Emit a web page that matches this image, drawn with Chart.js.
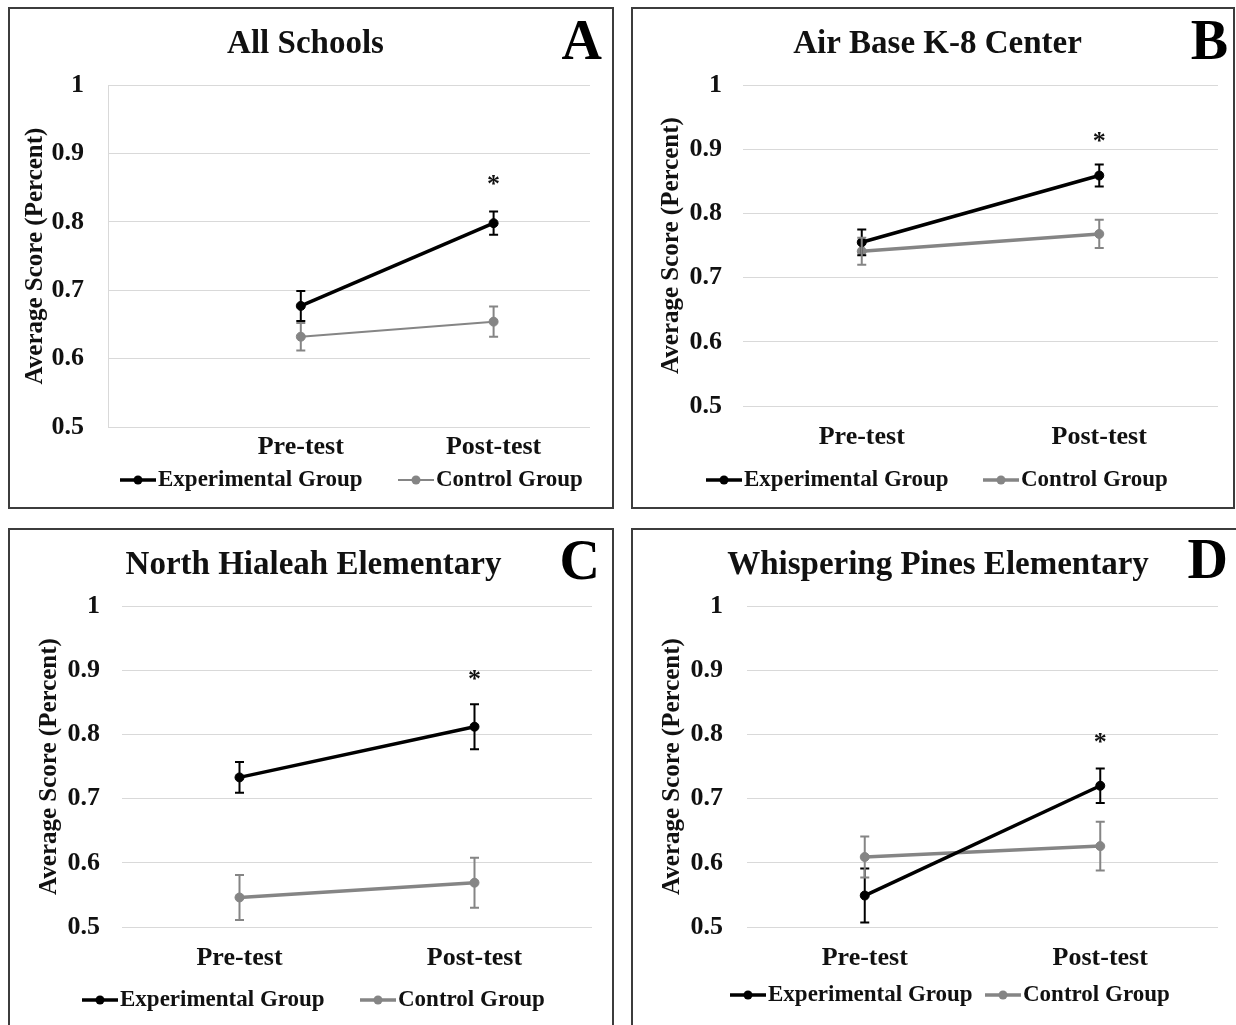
<!DOCTYPE html>
<html>
<head>
<meta charset="utf-8">
<script src="https://cdn.jsdelivr.net/npm/chart.js@4.4.1/dist/chart.umd.min.js"></script>
<style>
  body { margin: 0; background: #fff; width: 1236px; height: 1025px; overflow: hidden; position: relative; }
  .panel { position: absolute; box-sizing: border-box; border: 2px solid #3c3c3c; background: #fff; }
  .panel canvas { display: block; }
</style>
</head>
<body>
<div class="panel" style="left:8px; top:7px; width:606px; height:502px;"><canvas id="chartA" width="602" height="498"></canvas></div>
<div class="panel" style="left:631px; top:7px; width:604px; height:502px;"><canvas id="chartB" width="600" height="498"></canvas></div>
<div class="panel" style="left:8px; top:528px; width:606px; height:510px;"><canvas id="chartC" width="602" height="495"></canvas></div>
<div class="panel" style="left:631px; top:528px; width:620px; height:510px;"><canvas id="chartD" width="603" height="495"></canvas></div>
<script>
const phases = ['Pre-test', 'Post-test'];
const groupNames = ['Experimental Group', 'Control Group'];
const yTicks = [0.5, 0.6, 0.7, 0.8, 0.9, 1];

// All Schools
const expA = [0.677, 0.798];
const expErrA = [0.022, 0.017];
const ctrlA = [0.632, 0.654];
const ctrlErrA = [0.020, 0.022];
const starA = [null, 0.861];

// Air Base K-8 Center
const expB = [0.755, 0.859];
const expErrB = [0.020, 0.017];
const ctrlB = [0.741, 0.768];
const ctrlErrB = [0.021, 0.022];
const starB = [null, 0.919];

// North Hialeah Elementary
const expC = [0.733, 0.812];
const expErrC = [0.024, 0.035];
const ctrlC = [0.546, 0.569];
const ctrlErrC = [0.035, 0.039];
const starC = [null, 0.893];

// Whispering Pines Elementary
const expD = [0.549, 0.720];
const expErrD = [0.042, 0.027];
const ctrlD = [0.609, 0.626];
const ctrlErrD = [0.032, 0.038];
const starD = [null, 0.795];

const SERIF = '"Liberation Serif", "Times New Roman", serif';
Chart.defaults.font.family = SERIF;
Chart.defaults.color = '#111';

const errorBars = {
    id: 'errorBars',
    afterDatasetsDraw(chart) {
        const ctx = chart.ctx;
        const yScale = chart.scales.y;
        chart.data.datasets.forEach((ds, i) => {
            const meta = chart.getDatasetMeta(i);
            ctx.save();
            ctx.strokeStyle = ds.borderColor;
            ctx.lineWidth = 2;
            meta.data.forEach((pt, j) => {
                const v = meta.controller.getParsed(j).y;
                const top = yScale.getPixelForValue(v + ds.errors[j]);
                const bot = yScale.getPixelForValue(v - ds.errors[j]);
                ctx.beginPath();
                ctx.moveTo(pt.x, top); ctx.lineTo(pt.x, bot);
                ctx.moveTo(pt.x - 4.5, top); ctx.lineTo(pt.x + 4.5, top);
                ctx.moveTo(pt.x - 4.5, bot); ctx.lineTo(pt.x + 4.5, bot);
                ctx.stroke();
            });
            ctx.restore();
        });
    }
};

const starMarks = {
    id: 'starMarks',
    afterDatasetsDraw(chart, args, opts) {
        const ctx = chart.ctx;
        const meta = chart.getDatasetMeta(0);
        ctx.save();
        ctx.font = 'bold 26px ' + SERIF;
        ctx.fillStyle = '#111';
        ctx.textAlign = 'center';
        ctx.textBaseline = 'alphabetic';
        opts.values.forEach((v, j) => {
            if (v === null) return;
            const y = chart.scales.y.getPixelForValue(v);
            ctx.fillText('*', meta.data[j].x, y + 12);
        });
        ctx.restore();
    }
};

const panelLetter = {
    id: 'panelLetter',
    afterDraw(chart, args, opts) {
        const ctx = chart.ctx;
        ctx.save();
        ctx.font = 'bold 56px ' + SERIF;
        ctx.fillStyle = '#000';
        ctx.textAlign = 'right';
        ctx.textBaseline = 'alphabetic';
        ctx.fillText(opts.text, opts.x, opts.y);
        ctx.restore();
    }
};

const legendLines = {
    id: 'legendLines',
    afterDraw(chart, args, opts) {
        const ctx = chart.ctx;
        ctx.save();
        ctx.font = 'bold 23px ' + SERIF;
        ctx.textBaseline = 'middle';
        chart.data.datasets.forEach((ds, i) => {
            const x = opts.x[i], y = opts.y;
            ctx.strokeStyle = ds.borderColor;
            ctx.lineWidth = ds.borderWidth;
            ctx.beginPath(); ctx.moveTo(x, y); ctx.lineTo(x + 36, y); ctx.stroke();
            ctx.fillStyle = ds.borderColor;
            ctx.beginPath(); ctx.arc(x + 18, y, 4.5, 0, Math.PI * 2); ctx.fill();
            ctx.fillStyle = '#111';
            ctx.fillText(ds.label, x + 38, y);
        });
        ctx.restore();
    }
};

function makePanel(id, p) {
    const toData = arr => p.linearX ? arr.map((v, i) => ({ x: i + 1, y: v })) : arr;
    const xScale = p.linearX ? {
        type: 'linear', min: 0, max: 2.5,
        afterBuildTicks: s => { s.ticks = phases.map((t, i) => ({ value: i + 1 })); },
        ticks: { callback: v => phases[v - 1], padding: p.xPad, font: { size: 26, weight: 'bold' }, color: '#111' }
    } : {
        type: 'category', offset: true,
        ticks: { padding: p.xPad, font: { size: 26, weight: 'bold' }, color: '#111' }
    };
    Object.assign(xScale, {
        grid: { display: false, drawTicks: false },
        border: { display: false },
        afterFit: s => { s.height = 50; }
    });
    return new Chart(document.getElementById(id), {
        type: 'line',
        data: {
            labels: phases,
            datasets: [
                {
                    label: groupNames[0], data: toData(p.exp), errors: p.expErr,
                    borderColor: '#000', backgroundColor: '#000', borderWidth: 3.5,
                    pointRadius: 4.5, pointBackgroundColor: '#000', pointBorderColor: '#000', pointBorderWidth: 1
                },
                {
                    label: groupNames[1], data: toData(p.ctrl), errors: p.ctrlErr,
                    borderColor: '#858585', backgroundColor: '#858585', borderWidth: p.ctrlWidth,
                    pointRadius: 4.5, pointBackgroundColor: '#858585', pointBorderColor: '#858585', pointBorderWidth: 1
                }
            ]
        },
        options: {
            responsive: false,
            animation: false,
            devicePixelRatio: 1,
            layout: { padding: p.pad },
            scales: {
                x: xScale,
                y: {
                    min: 0.5, max: 1,
                    afterBuildTicks: s => { s.ticks = yTicks.map(v => ({ value: v })); },
                    afterFit: s => { s.width = p.yW; },
                    ticks: { callback: v => String(v), padding: p.yPad, font: { size: 26, weight: 'bold' }, color: '#111' },
                    grid: { color: '#d9d9d9', lineWidth: 1, drawTicks: false },
                    border: { display: p.yBorder, color: '#d9d9d9' },
                    title: {
                        display: true, text: 'Average Score (Percent)',
                        font: { size: 25, weight: 'bold' }, color: '#111', padding: 0
                    }
                }
            },
            plugins: {
                legend: { display: false },
                tooltip: { enabled: false },
                title: {
                    display: true, text: p.title,
                    font: { size: 33, weight: 'bold' }, color: '#111',
                    padding: { top: 16, bottom: 20.4 }
                },
                starMarks: { values: p.star },
                panelLetter: p.letter,
                legendLines: p.legend
            }
        },
        plugins: [errorBars, starMarks, panelLetter, legendLines]
    });
}

makePanel('chartA', {
    title: 'All Schools', linearX: true,
    exp: expA, expErr: expErrA, ctrl: ctrlA, ctrlErr: ctrlErrA, star: starA, ctrlWidth: 2,
    pad: { left: 11, right: 22, top: 0, bottom: 30 }, yW: 87, yPad: 24, xPad: 5, yBorder: true,
    letter: { text: 'A', x: 592, y: 50 },
    legend: { x: [110, 388], y: 471 }
});
makePanel('chartB', {
    title: 'Air Base K-8 Center',
    exp: expB, expErr: expErrB, ctrl: ctrlB, ctrlErr: ctrlErrB, star: starB, ctrlWidth: 3.5,
    pad: { left: 24, right: 15, top: 0, bottom: 51 }, yW: 86, yPad: 21, xPad: 16, yBorder: false,
    letter: { text: 'B', x: 595, y: 50 },
    legend: { x: [73, 350], y: 471 }
});
makePanel('chartC', {
    title: 'North Hialeah Elementary',
    exp: expC, expErr: expErrC, ctrl: ctrlC, ctrlErr: ctrlErrC, star: starC, ctrlWidth: 3.5,
    pad: { left: 25, right: 20, top: 0, bottom: 48 }, yW: 87, yPad: 22, xPad: 16, yBorder: false,
    letter: { text: 'C', x: 590, y: 49 },
    legend: { x: [72, 350], y: 470 }
});
makePanel('chartD', {
    title: 'Whispering Pines Elementary',
    exp: expD, expErr: expErrD, ctrl: ctrlD, ctrlErr: ctrlErrD, star: starD, ctrlWidth: 3.5,
    pad: { left: 25, right: 18, top: 0, bottom: 48 }, yW: 89, yPad: 24, xPad: 16, yBorder: false,
    letter: { text: 'D', x: 595, y: 48 },
    legend: { x: [97, 352], y: 465 }
});
</script>
</body>
</html>
